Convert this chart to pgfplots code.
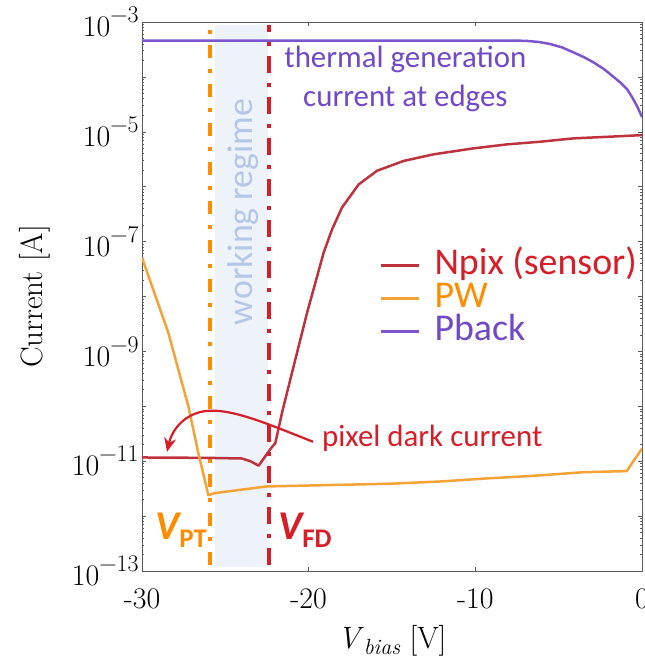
\documentclass[border=0pt]{standalone}
\usepackage{fontspec}
\usepackage{pgfplots}
\pgfplotsset{compat=1.18}
\usetikzlibrary{arrows.meta}
\newfontfamily\carlito{Carlito}
\definecolor{npix}{RGB}{190,50,62}
\definecolor{pwc}{RGB}{245,163,55}
\definecolor{pback}{RGB}{125,85,205}
\definecolor{redtxt}{RGB}{215,30,40}
\definecolor{orangetxt}{RGB}{255,140,0}
\definecolor{purpletxt}{RGB}{112,72,200}
\definecolor{regime}{RGB}{180,199,231}
\definecolor{shadec}{RGB}{238,242,249}
\definecolor{axgray}{RGB}{90,90,90}
\newcommand{\tp}[1]{10\raisebox{14bp}{\fontsize{24}{24}\selectfont −#1}}
\begin{document}
\begin{tikzpicture}
\begin{axis}[
  at={(0,0)}, anchor=south west,
  scale only axis, width=500bp, height=549bp,
  xmin=-30, xmax=0, ymin=1e-13, ymax=1e-3, ymode=log,
  xtick={-30,-20,-10,0}, xticklabels={-30,-20,-10,0},
  ytickten={-13,-12,...,-3},
  yticklabels={\tp{13},{},\tp{11},{},\tp{9},{},\tp{7},{},\tp{5},{},\tp{3}},
  axis line style={axgray, line width=0.9bp},
  major tick length=4bp, minor tick length=2.5bp,
  every tick/.style={axgray, line width=0.6bp},
  tick label style={font=\fontsize{30}{36}\selectfont},
  xticklabel style={anchor=base, yshift=-37bp},
  label style={font=\fontsize{31}{36}\selectfont},
  xlabel={\textit{V}\raisebox{-6bp}{\fontsize{22}{22}\selectfont\textit{bias}} [V]},
  ylabel={Current [A]},
  xlabel style={at={(axis description cs:0.5,-0.1403)}, anchor=base},
  ylabel style={at={(axis description cs:-0.198,0.5)}, anchor=base},
  legend style={at={(rel axis cs:0.476,0.583)}, anchor=north west, draw=none, fill=none,
    inner sep=0pt, outer sep=0pt, row sep=4bp,
    font=\carlito\fontsize{38}{40}\selectfont,
    nodes={inner sep=0pt, text height=24bp, text depth=5bp},
    /tikz/every odd column/.append style={column sep=14bp}},
  legend cell align=left,
  legend image code/.code={\draw[#1] (0bp,0bp) -- (38bp,0bp);},
]
\fill[shadec] (axis cs:-25.62,1.2e-13) rectangle (axis cs:-22.46,9e-4);
\node[rotate=90, font=\carlito\fontsize{36}{40}\selectfont, text=regime] at (axis cs:-23.94,3.48e-7) {working regime};
\draw[orangetxt, line width=3.5bp, dash pattern=on 13bp off 11bp on 4bp off 11bp] (axis cs:-25.92,1.3e-13) -- (axis cs:-25.92,9e-4);
\draw[redtxt, line width=3.5bp, dash pattern=on 17bp off 10bp on 4bp off 10bp] (axis cs:-22.38,1.3e-13) -- (axis cs:-22.38,9e-4);

\addplot[npix, line width=2.5bp, line join=round] coordinates {
(-30,1.17e-11) (-26,1.15e-11) (-24,1.12e-11) (-23.5,1.0e-11) (-23.0,8.3e-12)
(-22.3,1.66e-11) (-22.0,2.14e-11) (-21.6,7.6e-11) (-21.1,3.09e-10) (-20.1,5.0e-9)
(-19.1,6.3e-8) (-18.6,1.66e-7) (-18.0,4.17e-7) (-17.0,1.10e-6) (-15.9,1.95e-6)
(-14.3,2.95e-6) (-12.5,3.89e-6) (-10.1,5.0e-6) (-8.1,5.9e-6) (-6.1,6.6e-6)
(-4.1,7.6e-6) (-2.1,8.1e-6) (0,8.7e-6)};
\addlegendentry{\textcolor{redtxt}{Npix (sensor)}}
\addplot[pwc, line width=2.5bp, line join=round] coordinates {
(-30,5.1e-8) (-28.42,2.19e-9) (-27.22,1.0e-10) (-26.62,1.41e-11) (-26.02,2.4e-12)
(-25.62,2.63e-12) (-22.52,3.47e-12) (-15.12,3.89e-12) (-12.12,4.27e-12) (-9.12,4.9e-12)
(-6.72,5.37e-12) (-3.52,6.3e-12) (-0.92,6.6e-12) (0,1.7e-11)};
\addlegendentry{\textcolor{orangetxt}{PW}}
\addplot[pback, line width=2.5bp, line join=round] coordinates {
(-30,4.6e-4) (-8.5,4.6e-4) (-7.5,4.58e-4) (-6.9,4.52e-4) (-6.2,4.33e-4) (-5.52,3.98e-4)
(-4.8,3.45e-4) (-4.14,2.82e-4) (-3.5,2.3e-4) (-2.94,1.86e-4) (-2.3,1.4e-4)
(-1.74,1.02e-4) (-1.3,7.9e-5) (-0.9,6.0e-5) (-0.6,4.3e-5) (-0.3,2.95e-5) (0,1.86e-5)};
\addlegendentry{\textcolor{purpletxt}{Pback}}

\node[anchor=base, font=\carlito\fontsize{31}{36}\selectfont, text=purpletxt] at (axis cs:-14.2,1.51e-4) {thermal generation};
\node[anchor=base, font=\carlito\fontsize{31}{36}\selectfont, text=purpletxt] at (axis cs:-14.2,2.93e-5) {current at edges};
\node[anchor=base west, inner sep=0pt, font=\carlito\fontsize{31}{36}\selectfont, text=redtxt] at (axis cs:-19.2,1.82e-11) {pixel dark current};
\draw[redtxt, line width=2.2bp, -{Stealth[length=14bp,width=12bp]}]
  (axis cs:-19.74,2.26e-11) .. controls (axis cs:-22.32,4.61e-11) and (axis cs:-24.42,8.67e-11) ..
  (axis cs:-25.92,8.32e-11) .. controls (axis cs:-27.42,7.96e-11) and (axis cs:-28.2,3.72e-11) ..
  (axis cs:-28.5,1.48e-11);
\node[anchor=base west, inner sep=0pt, text=orangetxt, font=\carlito\bfseries\itshape\fontsize{41}{44}\selectfont] at (axis cs:-29.22,3.68e-13) {V\raisebox{-8bp}{\upshape\fontsize{27}{30}\selectfont PT}};
\node[anchor=base west, inner sep=0pt, text=redtxt, font=\carlito\bfseries\itshape\fontsize{41}{44}\selectfont] at (axis cs:-21.84,3.68e-13) {V\raisebox{-8bp}{\upshape\fontsize{27}{30}\selectfont FD}};
\end{axis}
\pgfresetboundingbox
\path[use as bounding box] (-142bp,-88bp) rectangle (503bp,571bp);
\end{tikzpicture}
\end{document}
